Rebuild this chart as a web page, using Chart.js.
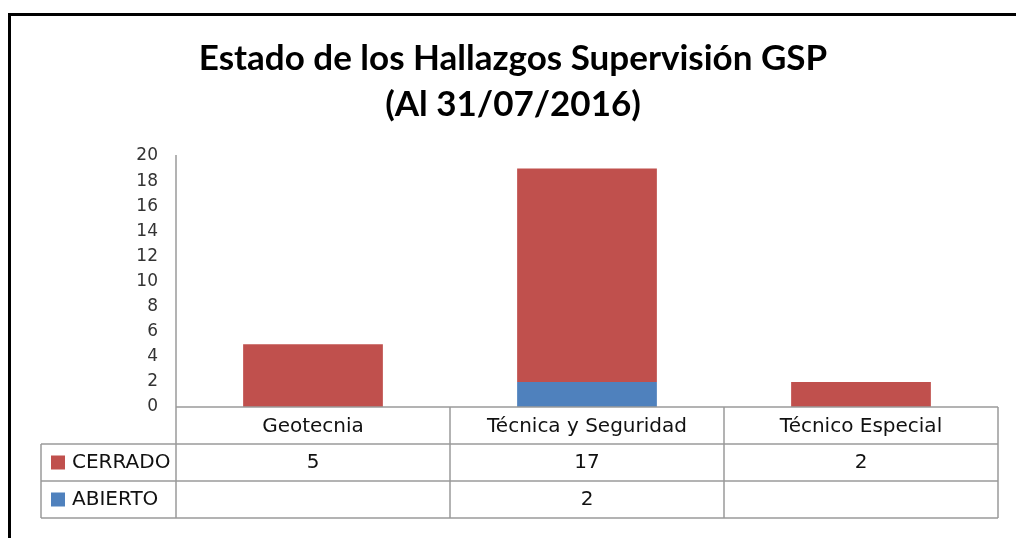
<!DOCTYPE html>
<html>
<head>
<meta charset="utf-8">
<script src="https://cdn.jsdelivr.net/npm/chart.js@4"></script>
<style>
  html, body { margin: 0; padding: 0; background: #fff; }
  #wrap { width: 1016px; height: 538px; }
</style>
</head>
<body>
<div id="wrap"><canvas id="chart"></canvas></div>
<script>
// data
const categories = ['Geotecnia', 'Técnica y Seguridad', 'Técnico Especial'];
const cerrado = [5, 17, 2];
const abierto = [null, 2, null];
const yTicks = [0, 2, 4, 6, 8, 10, 12, 14, 16, 18, 20];
const titleLines = ['Estado de los Hallazgos Supervisión GSP', '(Al 31/07/2016)'];

const RED = '#C0504D';
const BLUE = '#4F81BD';
const LINE = '#9a9a9a';
const TITLE_FONT = 'Lato';
const FONT = '"DejaVu Sans"';

// draws the frame and the data table under the bars
const dataTablePlugin = {
  id: 'dataTable',
  afterDraw(chart) {
    const ctx = chart.ctx;
    const area = chart.chartArea;
    const x = chart.scales.x;
    const rowH = 37;
    const top = area.bottom;
    const tableLeft = 41;
    const step = (area.right - area.left) / categories.length;

    ctx.save();
    // outer frame
    ctx.strokeStyle = '#000';
    ctx.lineWidth = 3;
    ctx.strokeRect(9.5, 14.5, 2000, 2000);

    ctx.strokeStyle = LINE;
    ctx.lineWidth = 1.5;
    // y axis line running down through the table
    ctx.beginPath();
    ctx.moveTo(area.left, area.top - 1);
    ctx.lineTo(area.left, top + rowH * 3);
    ctx.stroke();

    // horizontal lines
    ctx.beginPath();
    ctx.moveTo(area.left, top); ctx.lineTo(area.right, top);
    for (let r = 1; r <= 3; r++) {
      ctx.moveTo(tableLeft, top + rowH * r);
      ctx.lineTo(area.right, top + rowH * r);
    }
    // vertical lines
    for (let i = 1; i <= categories.length; i++) {
      const px = area.left + step * i;
      ctx.moveTo(px, top); ctx.lineTo(px, top + rowH * 3);
    }
    ctx.moveTo(tableLeft, top + rowH); ctx.lineTo(tableLeft, top + rowH * 3);
    ctx.stroke();

    ctx.fillStyle = '#111';
    ctx.font = '20px ' + FONT;
    ctx.textAlign = 'center';
    ctx.textBaseline = 'middle';
    categories.forEach((c, i) => {
      ctx.fillText(c, x.getPixelForValue(i), top + rowH / 2 + 1);
    });

    // rows: top of the stack first
    const rows = chart.data.datasets.slice().reverse();
    rows.forEach((ds, r) => {
      const cy = top + rowH * (r + 1) + rowH / 2;
      ctx.fillStyle = ds.backgroundColor;
      ctx.fillRect(51, cy - 7, 14, 14);
      ctx.fillStyle = '#111';
      ctx.textAlign = 'left';
      ctx.fillText(ds.label, 72, cy);
      ctx.textAlign = 'center';
      ds.data.forEach((v, i) => {
        if (v !== null) ctx.fillText(String(v), x.getPixelForValue(i), cy);
      });
    });
    ctx.restore();
  }
};

new Chart(document.getElementById('chart'), {
  type: 'bar',
  data: {
    labels: categories,
    datasets: [
      { label: 'ABIERTO', data: abierto, backgroundColor: BLUE },
      { label: 'CERRADO', data: cerrado, backgroundColor: RED },
    ],
  },
  options: {
    responsive: true,
    maintainAspectRatio: false,
    animation: false,
    layout: { padding: { left: 28, right: 18, top: 0, bottom: 131 } },
    categoryPercentage: 1,
    barPercentage: 0.51,
    scales: {
      x: { stacked: true, display: false },
      y: {
        stacked: true,
        min: 0,
        max: 20,
        afterFit(scale) { scale.width = 148; },
        afterBuildTicks(scale) { scale.ticks = yTicks.map(v => ({ value: v })); },
        grid: { display: false, drawTicks: false },
        border: { display: false },
        ticks: { padding: 18, color: '#333', font: { family: FONT, size: 17 } },
      },
    },
    plugins: {
      legend: { display: false },
      tooltip: { enabled: false },
      title: {
        display: true,
        text: titleLines,
        color: '#000',
        font: { family: TITLE_FONT, size: 35, weight: 'bold', lineHeight: 1.3 },
        padding: { top: 36, bottom: 29 },
      },
    },
  },
  plugins: [dataTablePlugin],
});
</script>
</body>
</html>
